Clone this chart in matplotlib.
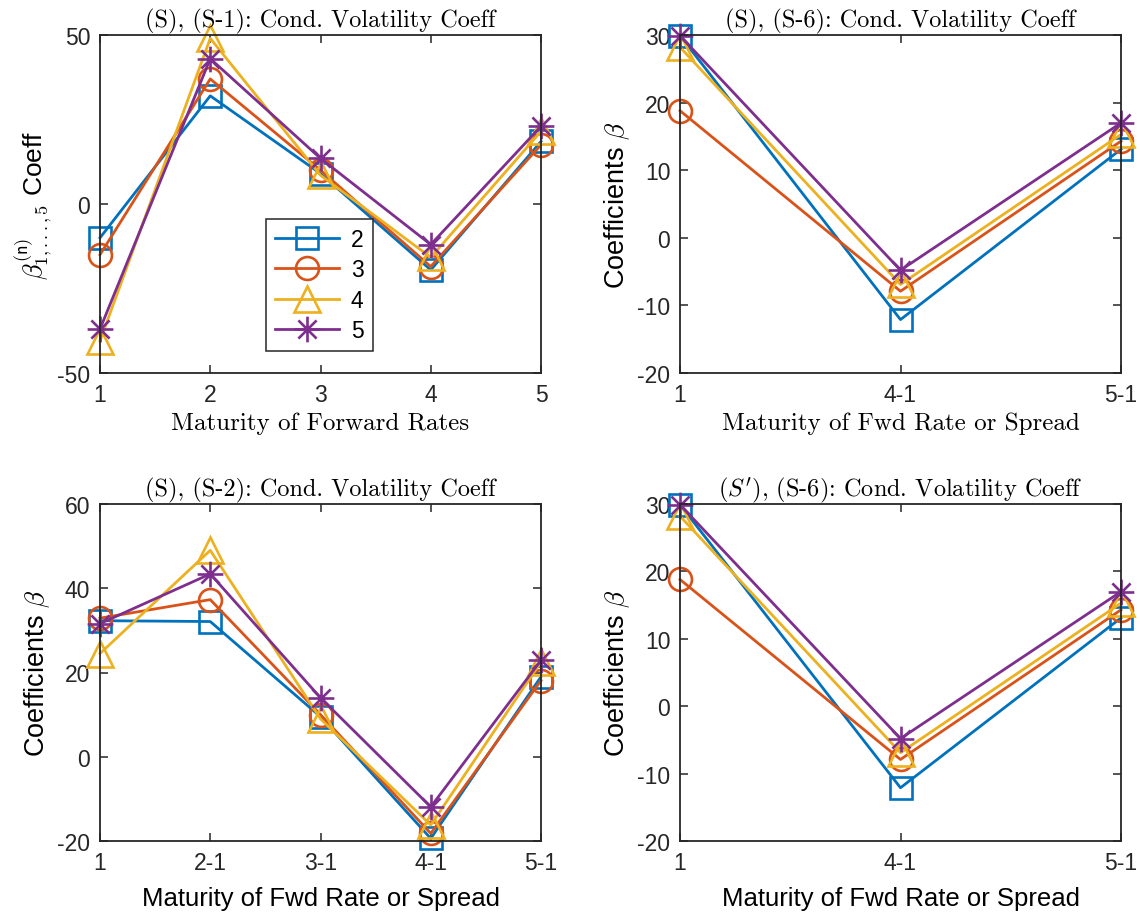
import numpy as np
import matplotlib
matplotlib.use("Agg")
import matplotlib.pyplot as plt
from matplotlib.path import Path

plt.rcParams['font.family'] = ['Liberation Sans', 'DejaVu Sans']
plt.rcParams['mathtext.fontset'] = 'cm'
plt.rcParams['axes.unicode_minus'] = False

# series labels (legend)
series = ['2', '3', '4', '5']
colors = ['#0072BD', '#D95319', '#EDB120', '#7E2F8E']

# panel 1: (S), (S-1)
p1_ticks = ['1', '2', '3', '4', '5']
p1_vals = [
    [-10, 32, 9, -19.5, 18.5],
    [-15, 37, 10, -18.5, 17.5],
    [-40.5, 49, 8.5, -15.8, 21.5],
    [-37, 43, 13.5, -12, 23],
]

# panel 2: (S), (S-6)
p2_ticks = ['1', '4-1', '5-1']
p2_vals = [
    [29.9, -12.1, 13.1],
    [18.8, -7.9, 14.3],
    [28.2, -6.9, 15.3],
    [29.9, -4.8, 17.0],
]

# panel 3: (S), (S-2)
p3_ticks = ['1', '2-1', '3-1', '4-1', '5-1']
p3_vals = [
    [32.3, 32.1, 9.5, -19.4, 19],
    [32.9, 37.3, 10, -18.2, 18.1],
    [24.5, 49, 9, -16.2, 22.5],
    [31.6, 43.4, 14, -11.9, 22.9],
]

# panel 4: (S'), (S-6)
p4_ticks = ['1', '4-1', '5-1']
p4_vals = [
    [29.9, -12.1, 13.1],
    [18.8, -7.9, 14.3],
    [28.2, -6.9, 15.3],
    [29.9, -4.8, 17.0],
]

# matlab-like asterisk marker (4 crossing strokes)
ang = np.deg2rad([0, 45, 90, 135])
verts, codes = [], []
for a in ang:
    verts += [(np.cos(a), np.sin(a)), (-np.cos(a), -np.sin(a))]
    codes += [Path.MOVETO, Path.LINETO]
star = Path(verts, codes)
markers = ['s', 'o', '^', star]
msizes = [15.5, 16.5, 18.5, 18.5]

fig = plt.figure(figsize=(11.4, 9.2), dpi=100)
W, H = 1140, 920
boxes = [(100, 36, 541, 374), (680, 36, 1121, 374),
         (100, 505, 541, 842), (680, 505, 1121, 842)]
axes = [fig.add_axes([l / W, 1 - b / H, (r - l) / W, (b - t) / H]) for l, t, r, b in boxes]

panels = [
    (p1_ticks, p1_vals, (-50, 50), [-50, 0, 50],
     '(S), (S-1): Cond. Volatility Coeff', 'Maturity of Forward Rates', True),
    (p2_ticks, p2_vals, (-20, 30), [-20, -10, 0, 10, 20, 30],
     '(S), (S-6): Cond. Volatility Coeff', 'Maturity of Fwd Rate or Spread', True),
    (p3_ticks, p3_vals, (-20, 60), [-20, 0, 20, 40, 60],
     '(S), (S-2): Cond. Volatility Coeff', 'Maturity of Fwd Rate or Spread', False),
    (p4_ticks, p4_vals, (-20, 30), [-20, -10, 0, 10, 20, 30],
     "$(S')$, (S-6): Cond. Volatility Coeff", 'Maturity of Fwd Rate or Spread', False),
]

for i, (ax, (ticks, vals, ylim, yt, title, xlab, serif_x)) in enumerate(zip(axes, panels)):
    x = np.arange(1, len(ticks) + 1)
    for k in range(4):
        ax.plot(x, vals[k], color=colors[k], lw=2.0, marker=markers[k],
                ms=msizes[k], mfc='none', mew=1.9, clip_on=False, label=series[k])
    ax.set_xlim(1, len(ticks))
    ax.set_ylim(*ylim)
    ax.set_xticks(x)
    ax.set_xticklabels(ticks)
    ax.set_yticks(yt)
    ax.tick_params(direction='in', top=True, right=True, length=6, width=1.1,
                   labelsize=16.5, colors='#262626', pad=7)
    for s in ax.spines.values():
        s.set_linewidth(1.3)
        s.set_color('#262626')
    ax.set_title(title, fontsize=17.5, family='cmr10', pad=6)
    if serif_x:
        ax.set_xlabel(xlab, fontsize=18, family='cmr10', labelpad=4)
    else:
        ax.set_xlabel(xlab, fontsize=18.5, labelpad=9)
    if i == 0:
        ax.set_ylabel(r'$\beta^{(\mathsf{n})}_{\mathsf{1,...,5}}$ Coeff', fontsize=19, labelpad=2)
    else:
        ax.set_ylabel(r'Coefficients $\beta$', fontsize=19.5, labelpad=4)

leg = axes[0].legend(loc='lower left', bbox_to_anchor=(0.376, 0.065), fontsize=16.5,
                     handlelength=2.8, borderpad=0.4, labelspacing=0.32, handletextpad=0.5,
                     fancybox=False, framealpha=1, edgecolor='#262626', borderaxespad=0)
leg.get_frame().set_linewidth(1.1)

fig.savefig('out.png', dpi=100)
